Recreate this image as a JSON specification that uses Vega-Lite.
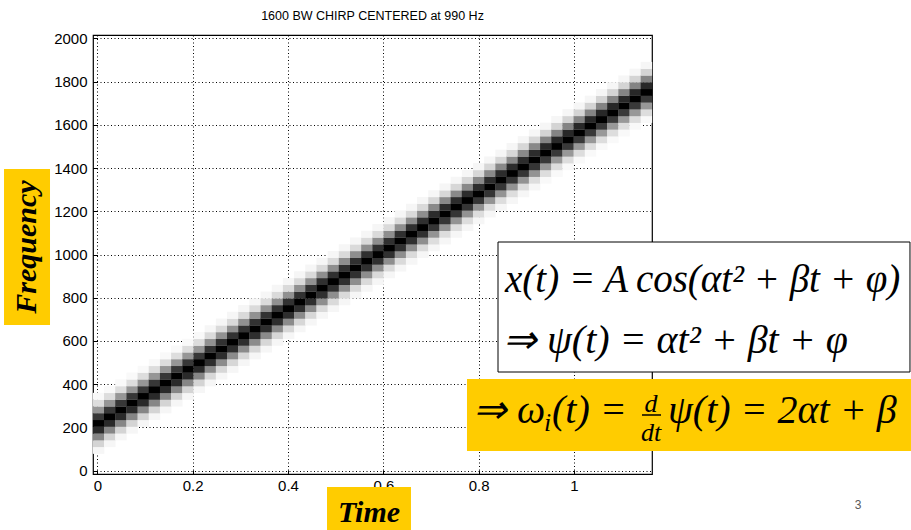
{
"$schema":"https://vega.github.io/schema/vega-lite/v6.json",
"width":559,"height":439,
"autosize":{"type":"none"},
"padding":{"left":93,"top":35,"right":259,"bottom":56},
"background":"#ffffff",
"title":{"text":"1600 BW CHIRP CENTERED at 990 Hz","font":"Liberation Sans","fontSize":12.5,"fontWeight":"normal","color":"#000000","anchor":"middle","offset":9},
"config":{"view":{"stroke":"#000000","strokeWidth":1.2},
"axis":{"domain":false,"grid":true,"gridColor":"#000000","gridDash":[1,2.5],"gridWidth":1,"gridOpacity":1,"ticks":true,"tickSize":-4,"tickColor":"#000000","labelFont":"Liberation Sans","labelFontSize":15,"labelColor":"#000000","labelPadding":10,"title":null,"zindex":0},
"text":{"font":"Liberation Serif"}},
"data":{"values":[
{"t":0.0025,"f":93.75,"v":0.03},{"t":0.0025,"f":125,"v":0.15},{"t":0.0025,"f":156.25,"v":0.44},{"t":0.0025,"f":187.5,"v":0.83},{"t":0.0025,"f":218.75,"v":1},{"t":0.0025,"f":250,"v":0.77},{"t":0.0025,"f":281.25,"v":0.38},{"t":0.0025,"f":312.5,"v":0.12},{"t":0.0025,"f":343.75,"v":0.02},
{"t":0.026,"f":125,"v":0.03},{"t":0.026,"f":156.25,"v":0.15},{"t":0.026,"f":187.5,"v":0.44},{"t":0.026,"f":218.75,"v":0.83},{"t":0.026,"f":250,"v":1},{"t":0.026,"f":281.25,"v":0.77},{"t":0.026,"f":312.5,"v":0.38},{"t":0.026,"f":343.75,"v":0.12},{"t":0.026,"f":375,"v":0.02},
{"t":0.0494,"f":156.25,"v":0.03},{"t":0.0494,"f":187.5,"v":0.15},{"t":0.0494,"f":218.75,"v":0.44},{"t":0.0494,"f":250,"v":0.83},{"t":0.0494,"f":281.25,"v":1},{"t":0.0494,"f":312.5,"v":0.77},{"t":0.0494,"f":343.75,"v":0.38},{"t":0.0494,"f":375,"v":0.12},{"t":0.0494,"f":406.25,"v":0.02},
{"t":0.0729,"f":187.5,"v":0.03},{"t":0.0729,"f":218.75,"v":0.15},{"t":0.0729,"f":250,"v":0.44},{"t":0.0729,"f":281.25,"v":0.83},{"t":0.0729,"f":312.5,"v":1},{"t":0.0729,"f":343.75,"v":0.77},{"t":0.0729,"f":375,"v":0.38},{"t":0.0729,"f":406.25,"v":0.12},{"t":0.0729,"f":437.5,"v":0.02},
{"t":0.0964,"f":218.75,"v":0.03},{"t":0.0964,"f":250,"v":0.15},{"t":0.0964,"f":281.25,"v":0.44},{"t":0.0964,"f":312.5,"v":0.83},{"t":0.0964,"f":343.75,"v":1},{"t":0.0964,"f":375,"v":0.77},{"t":0.0964,"f":406.25,"v":0.38},{"t":0.0964,"f":437.5,"v":0.12},{"t":0.0964,"f":468.75,"v":0.02},
{"t":0.1198,"f":250,"v":0.03},{"t":0.1198,"f":281.25,"v":0.15},{"t":0.1198,"f":312.5,"v":0.44},{"t":0.1198,"f":343.75,"v":0.83},{"t":0.1198,"f":375,"v":1},{"t":0.1198,"f":406.25,"v":0.77},{"t":0.1198,"f":437.5,"v":0.38},{"t":0.1198,"f":468.75,"v":0.12},{"t":0.1198,"f":500,"v":0.02},
{"t":0.1433,"f":281.25,"v":0.03},{"t":0.1433,"f":312.5,"v":0.15},{"t":0.1433,"f":343.75,"v":0.44},{"t":0.1433,"f":375,"v":0.83},{"t":0.1433,"f":406.25,"v":1},{"t":0.1433,"f":437.5,"v":0.77},{"t":0.1433,"f":468.75,"v":0.38},{"t":0.1433,"f":500,"v":0.12},{"t":0.1433,"f":531.25,"v":0.02},
{"t":0.1667,"f":312.5,"v":0.03},{"t":0.1667,"f":343.75,"v":0.15},{"t":0.1667,"f":375,"v":0.44},{"t":0.1667,"f":406.25,"v":0.83},{"t":0.1667,"f":437.5,"v":1},{"t":0.1667,"f":468.75,"v":0.77},{"t":0.1667,"f":500,"v":0.38},{"t":0.1667,"f":531.25,"v":0.12},{"t":0.1667,"f":562.5,"v":0.02},
{"t":0.1902,"f":343.75,"v":0.03},{"t":0.1902,"f":375,"v":0.15},{"t":0.1902,"f":406.25,"v":0.44},{"t":0.1902,"f":437.5,"v":0.83},{"t":0.1902,"f":468.75,"v":1},{"t":0.1902,"f":500,"v":0.77},{"t":0.1902,"f":531.25,"v":0.38},{"t":0.1902,"f":562.5,"v":0.12},{"t":0.1902,"f":593.75,"v":0.02},
{"t":0.2137,"f":375,"v":0.03},{"t":0.2137,"f":406.25,"v":0.15},{"t":0.2137,"f":437.5,"v":0.44},{"t":0.2137,"f":468.75,"v":0.83},{"t":0.2137,"f":500,"v":1},{"t":0.2137,"f":531.25,"v":0.77},{"t":0.2137,"f":562.5,"v":0.38},{"t":0.2137,"f":593.75,"v":0.12},{"t":0.2137,"f":625,"v":0.02},
{"t":0.2371,"f":406.25,"v":0.03},{"t":0.2371,"f":437.5,"v":0.14},{"t":0.2371,"f":468.75,"v":0.42},{"t":0.2371,"f":500,"v":0.81},{"t":0.2371,"f":531.25,"v":1},{"t":0.2371,"f":562.5,"v":0.79},{"t":0.2371,"f":593.75,"v":0.4},{"t":0.2371,"f":625,"v":0.13},{"t":0.2371,"f":656.25,"v":0.03},
{"t":0.2606,"f":437.5,"v":0.03},{"t":0.2606,"f":468.75,"v":0.14},{"t":0.2606,"f":500,"v":0.42},{"t":0.2606,"f":531.25,"v":0.81},{"t":0.2606,"f":562.5,"v":1},{"t":0.2606,"f":593.75,"v":0.79},{"t":0.2606,"f":625,"v":0.4},{"t":0.2606,"f":656.25,"v":0.13},{"t":0.2606,"f":687.5,"v":0.03},
{"t":0.284,"f":468.75,"v":0.03},{"t":0.284,"f":500,"v":0.14},{"t":0.284,"f":531.25,"v":0.42},{"t":0.284,"f":562.5,"v":0.81},{"t":0.284,"f":593.75,"v":1},{"t":0.284,"f":625,"v":0.79},{"t":0.284,"f":656.25,"v":0.4},{"t":0.284,"f":687.5,"v":0.13},{"t":0.284,"f":718.75,"v":0.03},
{"t":0.3075,"f":500,"v":0.03},{"t":0.3075,"f":531.25,"v":0.14},{"t":0.3075,"f":562.5,"v":0.42},{"t":0.3075,"f":593.75,"v":0.81},{"t":0.3075,"f":625,"v":1},{"t":0.3075,"f":656.25,"v":0.79},{"t":0.3075,"f":687.5,"v":0.4},{"t":0.3075,"f":718.75,"v":0.13},{"t":0.3075,"f":750,"v":0.03},
{"t":0.331,"f":531.25,"v":0.03},{"t":0.331,"f":562.5,"v":0.14},{"t":0.331,"f":593.75,"v":0.42},{"t":0.331,"f":625,"v":0.81},{"t":0.331,"f":656.25,"v":1},{"t":0.331,"f":687.5,"v":0.79},{"t":0.331,"f":718.75,"v":0.4},{"t":0.331,"f":750,"v":0.13},{"t":0.331,"f":781.25,"v":0.03},
{"t":0.3544,"f":562.5,"v":0.03},{"t":0.3544,"f":593.75,"v":0.14},{"t":0.3544,"f":625,"v":0.42},{"t":0.3544,"f":656.25,"v":0.81},{"t":0.3544,"f":687.5,"v":1},{"t":0.3544,"f":718.75,"v":0.79},{"t":0.3544,"f":750,"v":0.4},{"t":0.3544,"f":781.25,"v":0.13},{"t":0.3544,"f":812.5,"v":0.03},
{"t":0.3779,"f":593.75,"v":0.03},{"t":0.3779,"f":625,"v":0.14},{"t":0.3779,"f":656.25,"v":0.42},{"t":0.3779,"f":687.5,"v":0.81},{"t":0.3779,"f":718.75,"v":1},{"t":0.3779,"f":750,"v":0.79},{"t":0.3779,"f":781.25,"v":0.4},{"t":0.3779,"f":812.5,"v":0.13},{"t":0.3779,"f":843.75,"v":0.03},
{"t":0.4013,"f":625,"v":0.03},{"t":0.4013,"f":656.25,"v":0.14},{"t":0.4013,"f":687.5,"v":0.42},{"t":0.4013,"f":718.75,"v":0.81},{"t":0.4013,"f":750,"v":1},{"t":0.4013,"f":781.25,"v":0.79},{"t":0.4013,"f":812.5,"v":0.4},{"t":0.4013,"f":843.75,"v":0.13},{"t":0.4013,"f":875,"v":0.03},
{"t":0.4248,"f":656.25,"v":0.03},{"t":0.4248,"f":687.5,"v":0.14},{"t":0.4248,"f":718.75,"v":0.42},{"t":0.4248,"f":750,"v":0.81},{"t":0.4248,"f":781.25,"v":1},{"t":0.4248,"f":812.5,"v":0.79},{"t":0.4248,"f":843.75,"v":0.4},{"t":0.4248,"f":875,"v":0.13},{"t":0.4248,"f":906.25,"v":0.03},
{"t":0.4482,"f":687.5,"v":0.03},{"t":0.4482,"f":718.75,"v":0.14},{"t":0.4482,"f":750,"v":0.42},{"t":0.4482,"f":781.25,"v":0.81},{"t":0.4482,"f":812.5,"v":1},{"t":0.4482,"f":843.75,"v":0.79},{"t":0.4482,"f":875,"v":0.4},{"t":0.4482,"f":906.25,"v":0.13},{"t":0.4482,"f":937.5,"v":0.03},
{"t":0.4717,"f":718.75,"v":0.03},{"t":0.4717,"f":750,"v":0.13},{"t":0.4717,"f":781.25,"v":0.41},{"t":0.4717,"f":812.5,"v":0.8},{"t":0.4717,"f":843.75,"v":1},{"t":0.4717,"f":875,"v":0.8},{"t":0.4717,"f":906.25,"v":0.41},{"t":0.4717,"f":937.5,"v":0.13},{"t":0.4717,"f":968.75,"v":0.03},
{"t":0.4952,"f":750,"v":0.03},{"t":0.4952,"f":781.25,"v":0.13},{"t":0.4952,"f":812.5,"v":0.41},{"t":0.4952,"f":843.75,"v":0.8},{"t":0.4952,"f":875,"v":1},{"t":0.4952,"f":906.25,"v":0.8},{"t":0.4952,"f":937.5,"v":0.41},{"t":0.4952,"f":968.75,"v":0.13},{"t":0.4952,"f":1000,"v":0.03},
{"t":0.5186,"f":781.25,"v":0.03},{"t":0.5186,"f":812.5,"v":0.13},{"t":0.5186,"f":843.75,"v":0.41},{"t":0.5186,"f":875,"v":0.8},{"t":0.5186,"f":906.25,"v":1},{"t":0.5186,"f":937.5,"v":0.8},{"t":0.5186,"f":968.75,"v":0.41},{"t":0.5186,"f":1000,"v":0.13},{"t":0.5186,"f":1031.25,"v":0.03},
{"t":0.5421,"f":812.5,"v":0.03},{"t":0.5421,"f":843.75,"v":0.13},{"t":0.5421,"f":875,"v":0.41},{"t":0.5421,"f":906.25,"v":0.8},{"t":0.5421,"f":937.5,"v":1},{"t":0.5421,"f":968.75,"v":0.8},{"t":0.5421,"f":1000,"v":0.41},{"t":0.5421,"f":1031.25,"v":0.13},{"t":0.5421,"f":1062.5,"v":0.03},
{"t":0.5655,"f":843.75,"v":0.03},{"t":0.5655,"f":875,"v":0.13},{"t":0.5655,"f":906.25,"v":0.41},{"t":0.5655,"f":937.5,"v":0.8},{"t":0.5655,"f":968.75,"v":1},{"t":0.5655,"f":1000,"v":0.8},{"t":0.5655,"f":1031.25,"v":0.41},{"t":0.5655,"f":1062.5,"v":0.13},{"t":0.5655,"f":1093.75,"v":0.03},
{"t":0.589,"f":875,"v":0.03},{"t":0.589,"f":906.25,"v":0.13},{"t":0.589,"f":937.5,"v":0.41},{"t":0.589,"f":968.75,"v":0.8},{"t":0.589,"f":1000,"v":1},{"t":0.589,"f":1031.25,"v":0.8},{"t":0.589,"f":1062.5,"v":0.41},{"t":0.589,"f":1093.75,"v":0.13},{"t":0.589,"f":1125,"v":0.03},
{"t":0.6125,"f":906.25,"v":0.03},{"t":0.6125,"f":937.5,"v":0.13},{"t":0.6125,"f":968.75,"v":0.41},{"t":0.6125,"f":1000,"v":0.8},{"t":0.6125,"f":1031.25,"v":1},{"t":0.6125,"f":1062.5,"v":0.8},{"t":0.6125,"f":1093.75,"v":0.41},{"t":0.6125,"f":1125,"v":0.13},{"t":0.6125,"f":1156.25,"v":0.03},
{"t":0.6359,"f":937.5,"v":0.03},{"t":0.6359,"f":968.75,"v":0.13},{"t":0.6359,"f":1000,"v":0.41},{"t":0.6359,"f":1031.25,"v":0.8},{"t":0.6359,"f":1062.5,"v":1},{"t":0.6359,"f":1093.75,"v":0.8},{"t":0.6359,"f":1125,"v":0.41},{"t":0.6359,"f":1156.25,"v":0.13},{"t":0.6359,"f":1187.5,"v":0.03},
{"t":0.6594,"f":968.75,"v":0.03},{"t":0.6594,"f":1000,"v":0.13},{"t":0.6594,"f":1031.25,"v":0.41},{"t":0.6594,"f":1062.5,"v":0.8},{"t":0.6594,"f":1093.75,"v":1},{"t":0.6594,"f":1125,"v":0.8},{"t":0.6594,"f":1156.25,"v":0.41},{"t":0.6594,"f":1187.5,"v":0.13},{"t":0.6594,"f":1218.75,"v":0.03},
{"t":0.6828,"f":1000,"v":0.03},{"t":0.6828,"f":1031.25,"v":0.13},{"t":0.6828,"f":1062.5,"v":0.41},{"t":0.6828,"f":1093.75,"v":0.8},{"t":0.6828,"f":1125,"v":1},{"t":0.6828,"f":1156.25,"v":0.8},{"t":0.6828,"f":1187.5,"v":0.41},{"t":0.6828,"f":1218.75,"v":0.13},{"t":0.6828,"f":1250,"v":0.03},
{"t":0.7063,"f":1031.25,"v":0.03},{"t":0.7063,"f":1062.5,"v":0.12},{"t":0.7063,"f":1093.75,"v":0.39},{"t":0.7063,"f":1125,"v":0.78},{"t":0.7063,"f":1156.25,"v":1},{"t":0.7063,"f":1187.5,"v":0.82},{"t":0.7063,"f":1218.75,"v":0.43},{"t":0.7063,"f":1250,"v":0.14},{"t":0.7063,"f":1281.25,"v":0.03},
{"t":0.7297,"f":1062.5,"v":0.03},{"t":0.7297,"f":1093.75,"v":0.12},{"t":0.7297,"f":1125,"v":0.39},{"t":0.7297,"f":1156.25,"v":0.78},{"t":0.7297,"f":1187.5,"v":1},{"t":0.7297,"f":1218.75,"v":0.82},{"t":0.7297,"f":1250,"v":0.43},{"t":0.7297,"f":1281.25,"v":0.14},{"t":0.7297,"f":1312.5,"v":0.03},
{"t":0.7532,"f":1093.75,"v":0.03},{"t":0.7532,"f":1125,"v":0.12},{"t":0.7532,"f":1156.25,"v":0.39},{"t":0.7532,"f":1187.5,"v":0.78},{"t":0.7532,"f":1218.75,"v":1},{"t":0.7532,"f":1250,"v":0.82},{"t":0.7532,"f":1281.25,"v":0.43},{"t":0.7532,"f":1312.5,"v":0.14},{"t":0.7532,"f":1343.75,"v":0.03},
{"t":0.7767,"f":1125,"v":0.03},{"t":0.7767,"f":1156.25,"v":0.12},{"t":0.7767,"f":1187.5,"v":0.39},{"t":0.7767,"f":1218.75,"v":0.78},{"t":0.7767,"f":1250,"v":1},{"t":0.7767,"f":1281.25,"v":0.82},{"t":0.7767,"f":1312.5,"v":0.43},{"t":0.7767,"f":1343.75,"v":0.14},{"t":0.7767,"f":1375,"v":0.03},
{"t":0.8001,"f":1156.25,"v":0.03},{"t":0.8001,"f":1187.5,"v":0.12},{"t":0.8001,"f":1218.75,"v":0.39},{"t":0.8001,"f":1250,"v":0.78},{"t":0.8001,"f":1281.25,"v":1},{"t":0.8001,"f":1312.5,"v":0.82},{"t":0.8001,"f":1343.75,"v":0.43},{"t":0.8001,"f":1375,"v":0.14},{"t":0.8001,"f":1406.25,"v":0.03},
{"t":0.8236,"f":1187.5,"v":0.03},{"t":0.8236,"f":1218.75,"v":0.12},{"t":0.8236,"f":1250,"v":0.39},{"t":0.8236,"f":1281.25,"v":0.78},{"t":0.8236,"f":1312.5,"v":1},{"t":0.8236,"f":1343.75,"v":0.82},{"t":0.8236,"f":1375,"v":0.43},{"t":0.8236,"f":1406.25,"v":0.14},{"t":0.8236,"f":1437.5,"v":0.03},
{"t":0.847,"f":1218.75,"v":0.03},{"t":0.847,"f":1250,"v":0.12},{"t":0.847,"f":1281.25,"v":0.39},{"t":0.847,"f":1312.5,"v":0.78},{"t":0.847,"f":1343.75,"v":1},{"t":0.847,"f":1375,"v":0.82},{"t":0.847,"f":1406.25,"v":0.43},{"t":0.847,"f":1437.5,"v":0.14},{"t":0.847,"f":1468.75,"v":0.03},
{"t":0.8705,"f":1250,"v":0.03},{"t":0.8705,"f":1281.25,"v":0.12},{"t":0.8705,"f":1312.5,"v":0.39},{"t":0.8705,"f":1343.75,"v":0.78},{"t":0.8705,"f":1375,"v":1},{"t":0.8705,"f":1406.25,"v":0.82},{"t":0.8705,"f":1437.5,"v":0.43},{"t":0.8705,"f":1468.75,"v":0.14},{"t":0.8705,"f":1500,"v":0.03},
{"t":0.894,"f":1281.25,"v":0.03},{"t":0.894,"f":1312.5,"v":0.12},{"t":0.894,"f":1343.75,"v":0.39},{"t":0.894,"f":1375,"v":0.78},{"t":0.894,"f":1406.25,"v":1},{"t":0.894,"f":1437.5,"v":0.82},{"t":0.894,"f":1468.75,"v":0.43},{"t":0.894,"f":1500,"v":0.14},{"t":0.894,"f":1531.25,"v":0.03},
{"t":0.9174,"f":1312.5,"v":0.03},{"t":0.9174,"f":1343.75,"v":0.12},{"t":0.9174,"f":1375,"v":0.39},{"t":0.9174,"f":1406.25,"v":0.78},{"t":0.9174,"f":1437.5,"v":1},{"t":0.9174,"f":1468.75,"v":0.82},{"t":0.9174,"f":1500,"v":0.43},{"t":0.9174,"f":1531.25,"v":0.14},{"t":0.9174,"f":1562.5,"v":0.03},
{"t":0.9409,"f":1343.75,"v":0.02},{"t":0.9409,"f":1375,"v":0.12},{"t":0.9409,"f":1406.25,"v":0.37},{"t":0.9409,"f":1437.5,"v":0.76},{"t":0.9409,"f":1468.75,"v":1},{"t":0.9409,"f":1500,"v":0.84},{"t":0.9409,"f":1531.25,"v":0.45},{"t":0.9409,"f":1562.5,"v":0.15},{"t":0.9409,"f":1593.75,"v":0.03},
{"t":0.9643,"f":1375,"v":0.02},{"t":0.9643,"f":1406.25,"v":0.12},{"t":0.9643,"f":1437.5,"v":0.37},{"t":0.9643,"f":1468.75,"v":0.76},{"t":0.9643,"f":1500,"v":1},{"t":0.9643,"f":1531.25,"v":0.84},{"t":0.9643,"f":1562.5,"v":0.45},{"t":0.9643,"f":1593.75,"v":0.15},{"t":0.9643,"f":1625,"v":0.03},
{"t":0.9878,"f":1406.25,"v":0.02},{"t":0.9878,"f":1437.5,"v":0.12},{"t":0.9878,"f":1468.75,"v":0.37},{"t":0.9878,"f":1500,"v":0.76},{"t":0.9878,"f":1531.25,"v":1},{"t":0.9878,"f":1562.5,"v":0.84},{"t":0.9878,"f":1593.75,"v":0.45},{"t":0.9878,"f":1625,"v":0.15},{"t":0.9878,"f":1656.25,"v":0.03},
{"t":1.0112,"f":1437.5,"v":0.02},{"t":1.0112,"f":1468.75,"v":0.12},{"t":1.0112,"f":1500,"v":0.37},{"t":1.0112,"f":1531.25,"v":0.76},{"t":1.0112,"f":1562.5,"v":1},{"t":1.0112,"f":1593.75,"v":0.84},{"t":1.0112,"f":1625,"v":0.45},{"t":1.0112,"f":1656.25,"v":0.15},{"t":1.0112,"f":1687.5,"v":0.03},
{"t":1.0347,"f":1468.75,"v":0.02},{"t":1.0347,"f":1500,"v":0.12},{"t":1.0347,"f":1531.25,"v":0.37},{"t":1.0347,"f":1562.5,"v":0.76},{"t":1.0347,"f":1593.75,"v":1},{"t":1.0347,"f":1625,"v":0.84},{"t":1.0347,"f":1656.25,"v":0.45},{"t":1.0347,"f":1687.5,"v":0.15},{"t":1.0347,"f":1718.75,"v":0.03},
{"t":1.0582,"f":1500,"v":0.02},{"t":1.0582,"f":1531.25,"v":0.12},{"t":1.0582,"f":1562.5,"v":0.37},{"t":1.0582,"f":1593.75,"v":0.76},{"t":1.0582,"f":1625,"v":1},{"t":1.0582,"f":1656.25,"v":0.84},{"t":1.0582,"f":1687.5,"v":0.45},{"t":1.0582,"f":1718.75,"v":0.15},{"t":1.0582,"f":1750,"v":0.03},
{"t":1.0816,"f":1531.25,"v":0.02},{"t":1.0816,"f":1562.5,"v":0.12},{"t":1.0816,"f":1593.75,"v":0.37},{"t":1.0816,"f":1625,"v":0.76},{"t":1.0816,"f":1656.25,"v":1},{"t":1.0816,"f":1687.5,"v":0.84},{"t":1.0816,"f":1718.75,"v":0.45},{"t":1.0816,"f":1750,"v":0.15},{"t":1.0816,"f":1781.25,"v":0.03},
{"t":1.1051,"f":1562.5,"v":0.02},{"t":1.1051,"f":1593.75,"v":0.12},{"t":1.1051,"f":1625,"v":0.37},{"t":1.1051,"f":1656.25,"v":0.76},{"t":1.1051,"f":1687.5,"v":1},{"t":1.1051,"f":1718.75,"v":0.84},{"t":1.1051,"f":1750,"v":0.45},{"t":1.1051,"f":1781.25,"v":0.15},{"t":1.1051,"f":1812.5,"v":0.03},
{"t":1.1285,"f":1593.75,"v":0.02},{"t":1.1285,"f":1625,"v":0.12},{"t":1.1285,"f":1656.25,"v":0.37},{"t":1.1285,"f":1687.5,"v":0.76},{"t":1.1285,"f":1718.75,"v":1},{"t":1.1285,"f":1750,"v":0.84},{"t":1.1285,"f":1781.25,"v":0.45},{"t":1.1285,"f":1812.5,"v":0.15},{"t":1.1285,"f":1843.75,"v":0.03},
{"t":1.152,"f":1625,"v":0.02},{"t":1.152,"f":1656.25,"v":0.12},{"t":1.152,"f":1687.5,"v":0.37},{"t":1.152,"f":1718.75,"v":0.76},{"t":1.152,"f":1750,"v":1},{"t":1.152,"f":1781.25,"v":0.84},{"t":1.152,"f":1812.5,"v":0.45},{"t":1.152,"f":1843.75,"v":0.15},{"t":1.152,"f":1875,"v":0.03}
]},
"layer":[
{"mark":{"type":"rect","width":11.5,"height":7},
 "encoding":{
  "x":{"field":"t","type":"quantitative","scale":{"domain":[-0.0092,1.1637],"nice":false,"zero":false},"axis":{"values":[0,0.2,0.4,0.6,0.8,1],"format":"~g","labelPadding":8,"labelFontSize":15}},
  "y":{"field":"f","type":"quantitative","scale":{"domain":[-15.625,2015.625],"nice":false,"zero":false},"axis":{"values":[0,200,400,600,800,1000,1200,1400,1600,1800,2000],"format":"d","labelPadding":10,"labelFontSize":15}},
  "color":{"field":"v","type":"quantitative","scale":{"domain":[0,1],"range":["#ffffff","#000000"]},"legend":null}}},
{"data":{"values":[{}]},"mark":{"type":"rect","fill":"#ffcc00"},"encoding":{"x":{"datum":-0.1959},"x2":{"datum":-0.0994},"y":{"datum":1395.6},"y2":{"datum":673.8}}},
{"data":{"values":[{}]},"mark":{"type":"text","text":"Frequency","font":"Liberation Serif","fontStyle":"italic","fontWeight":"bold","fontSize":30,"angle":270,"align":"center","baseline":"middle","color":"#000000"},"encoding":{"x":{"datum":-0.1477},"y":{"datum":1034.7}}},
{"data":{"values":[{}]},"mark":{"type":"rect","fill":"#ffcc00"},"encoding":{"x":{"datum":0.4818},"x2":{"datum":0.658},"y":{"datum":-75.8},"y2":{"datum":-274.7}}},
{"data":{"values":[{}]},"mark":{"type":"text","text":"Time","font":"Liberation Serif","fontStyle":"italic","fontWeight":"bold","fontSize":30,"align":"center","baseline":"alphabetic","color":"#000000"},"encoding":{"x":{"datum":0.5699},"y":{"datum":-237.7}}},
{"data":{"values":[{}]},"mark":{"type":"rect","fill":"#ffffff","stroke":"#000000","strokeWidth":1},"encoding":{"x":{"datum":0.8406},"x2":{"datum":1.705},"y":{"datum":1057.8},"y2":{"datum":456.3}}},
{"data":{"values":[{}]},"mark":{"type":"rect","fill":"#ffcc00"},"encoding":{"x":{"datum":0.7755},"x2":{"datum":1.7071},"y":{"datum":423.9},"y2":{"datum":90.8}}},
{"data":{"values":[{}]},"mark":{"type":"text","text":"x(t) = A\u2009cos(αt² + βt + φ)","font":"Liberation Serif","fontStyle":"italic","fontSize":39,"align":"left","baseline":"alphabetic","color":"#000000"},"encoding":{"x":{"datum":0.8553},"y":{"datum":826.5}}},
{"data":{"values":[{}]},"mark":{"type":"text","text":"⇒ ψ(t) = αt² + βt + φ","font":"Liberation Serif","fontStyle":"italic","fontSize":40,"align":"left","baseline":"alphabetic","color":"#000000"},"encoding":{"x":{"datum":0.8511},"y":{"datum":544.2}}},
{"data":{"values":[{}]},"mark":{"type":"text","text":"⇒ ω","font":"Liberation Serif","fontStyle":"italic","fontSize":40,"align":"left","baseline":"alphabetic","color":"#000000"},"encoding":{"x":{"datum":0.7881},"y":{"datum":220.4}}},
{"data":{"values":[{}]},"mark":{"type":"text","text":"i","font":"Liberation Serif","fontStyle":"italic","fontSize":26,"align":"left","baseline":"alphabetic","color":"#000000"},"encoding":{"x":{"datum":0.9371},"y":{"datum":183.3}}},
{"data":{"values":[{}]},"mark":{"type":"text","text":"(t) =","font":"Liberation Serif","fontStyle":"italic","fontSize":40,"align":"left","baseline":"alphabetic","color":"#000000"},"encoding":{"x":{"datum":0.9539},"y":{"datum":220.4}}},
{"data":{"values":[{}]},"mark":{"type":"text","text":"d","font":"Liberation Serif","fontStyle":"italic","fontSize":26,"align":"center","baseline":"alphabetic","color":"#000000"},"encoding":{"x":{"datum":1.1616},"y":{"datum":271.2}}},
{"data":{"values":[{}]},"mark":{"type":"rule","color":"#000000","strokeWidth":1.5},"encoding":{"x":{"datum":1.1427},"x2":{"datum":1.1826},"y":{"datum":257.4}}},
{"data":{"values":[{}]},"mark":{"type":"text","text":"dt","font":"Liberation Serif","fontStyle":"italic","fontSize":26,"align":"center","baseline":"alphabetic","color":"#000000"},"encoding":{"x":{"datum":1.1616},"y":{"datum":137.1}}},
{"data":{"values":[{}]},"mark":{"type":"text","text":"ψ(t) = 2αt + β","font":"Liberation Serif","fontStyle":"italic","fontSize":40,"align":"left","baseline":"alphabetic","color":"#000000"},"encoding":{"x":{"datum":1.1973},"y":{"datum":220.4}}},
{"data":{"values":[{}]},"mark":{"type":"text","text":"3","font":"Liberation Sans","fontSize":12,"align":"center","baseline":"middle","color":"#595959"},"encoding":{"x":{"datum":1.5959},"y":{"datum":-159.1}}}
]
}
